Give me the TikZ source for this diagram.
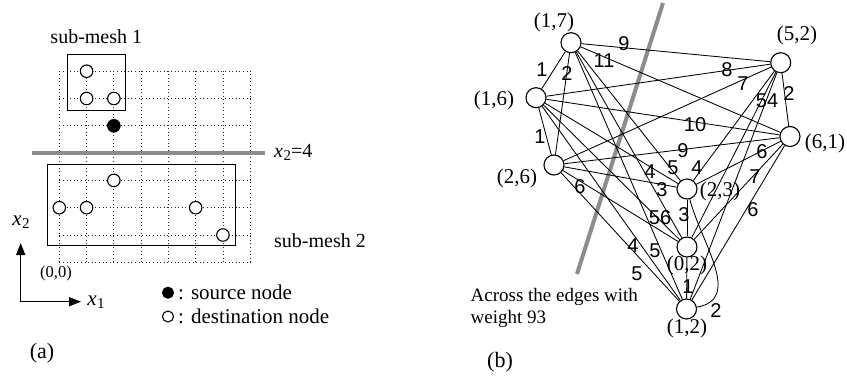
\documentclass[tikz,border=0pt]{standalone}
\usepackage{fontspec}
\setmainfont{Liberation Serif}
\newfontfamily\wfont{Liberation Sans}
\usetikzlibrary{arrows.meta}

\tikzset{
  gridline/.style={black!85, line width=0.8pt, dash pattern=on 1pt off 2.6pt},
  cutline/.style={black!45, line width=4pt},
  meshbox/.style={draw, line width=0.9pt},
  dest/.style={circle, draw, fill=white, line width=1.1pt, minimum size=12.5pt, inner sep=0pt},
  src/.style={circle, draw, fill=black, line width=1.1pt, minimum size=12.5pt, inner sep=0pt},
  vert/.style={circle, draw, fill=white, line width=1.1pt, minimum size=20pt, inner sep=0pt},
  edge/.style={line width=0.85pt},
  wlabel/.style={font=\wfont\fontsize{20}{20}\selectfont, inner sep=0pt},
  vlabel/.style={font=\fontsize{21}{21}\selectfont, inner sep=0pt},
  txt/.style={font=\fontsize{20}{24}\selectfont, inner sep=0pt},
  axis/.style={line width=1.3pt, -{Triangle[length=12pt,width=9pt]}},
}
\newcommand{\xsub}[1]{\textit{x}\kern0.5pt\raisebox{-0.35ex}{\fontsize{15}{15}\selectfont #1}}

\begin{document}
\begin{tikzpicture}[x=1pt, y=-1pt]
\useasboundingbox (0,0) rectangle (847,378);

% ---------- (a) the 2-D mesh ----------
\begin{scope}[shift={(59.3pt,-262.3pt)}, x=27.27pt, y=27.3pt]
  \foreach \i in {0,...,7} {
    \draw[gridline] (\i,0) -- (\i,7);
    \draw[gridline] (0,\i) -- (7,\i);
  }
  \draw[meshbox] (0.31,5.55) rectangle (2.41,7.6);
  \draw[meshbox] (-0.44,0.62) rectangle (6.45,3.58);
  \draw[cutline] (-0.99,4) -- (7.55,4);
  \node[src]  (s25) at (2,5) {};
  \node[dest] (m17) at (1,7) {};
  \node[dest] (m16) at (1,6) {};
  \node[dest] (m26) at (2,6) {};
  \node[dest] (m23) at (2,3) {};
  \node[dest] (m02) at (0,2) {};
  \node[dest] (m12) at (1,2) {};
  \node[dest] (m52) at (5,2) {};
  \node[dest] (m61) at (6,1) {};
\end{scope}

\node[txt] (sm1) at (96.3,37) {sub-mesh 1};
\node[txt] (sm2) at (320,241) {sub-mesh 2};
\node[txt, anchor=west] (cut) at (274,152.5) {\xsub{2}=4};
\node[txt, font=\fontsize{16.5}{16.5}\selectfont] (org) at (56,274) {(0,0)};

% axes
\coordinate (ax0) at (20.7,301.7);
\coordinate (ax2) at (20.7,243);
\coordinate (ax1) at (81,301.7);
\draw[axis] (ax0) -- (ax2);
\draw[axis] (ax0) -- (ax1);
\node[txt, font=\fontsize{21}{21}\selectfont] (x2) at (21,222) {\xsub{2}};
\node[txt, font=\fontsize{21}{21}\selectfont] (x1) at (96,302) {\xsub{1}};

% legend
\node[src, minimum size=11pt]  (lgs) at (168,292.7) {};
\node[dest, minimum size=11pt] (lgd) at (168,316.5) {};
\node[txt, anchor=west, font=\fontsize{21}{21}\selectfont] (lgst) at (178,292.5) {: source node};
\node[txt, anchor=west, font=\fontsize{21}{21}\selectfont] (lgdt) at (178,316.5) {: destination node};

\node[txt, font=\fontsize{22}{22}\selectfont] (capa) at (42,353) {(a)};

% ---------- (b) the weighted complete graph ----------
\draw[cutline] (663,3) -- (577,274);

\coordinate (p17) at (571,42.7);
\coordinate (p52) at (780.7,62.7);
\coordinate (p16) at (536,97.7);
\coordinate (p61) at (790,136.5);
\coordinate (p26) at (554,165);
\coordinate (p23) at (687,189);
\coordinate (p02) at (687,247);
\coordinate (p12) at (686.5,309);

\node[vert] (n17) at (p17) {};
\node[vert] (n52) at (p52) {};
\node[vert] (n16) at (p16) {};
\node[vert] (n61) at (p61) {};
\node[vert] (n26) at (p26) {};
\node[vert] (n23) at (p23) {};
\node[vert] (n02) at (p02) {};
\node[vert] (n12) at (p12) {};

\foreach \a/\b in {17/52,17/16,17/61,17/26,17/23,17/02,17/12,
                   52/16,52/61,52/26,52/23,52/02,52/12,
                   16/61,16/26,16/23,16/02,16/12,
                   61/26,61/23,61/02,61/12,
                   26/23,26/02,26/12,
                   23/02,02/12}
  \draw[edge] (n\a) -- (n\b);
\draw[edge] (n23) to[out=-75, in=10, looseness=1.1] (n12);

% vertex names
\node[vlabel] (l17) at (554,22) {(1,7)};
\node[vlabel] (l52) at (797,35) {(5,2)};
\node[vlabel] (l16) at (494,100) {(1,6)};
\node[vlabel] (l61) at (825,143) {(6,1)};
\node[vlabel] (l26) at (517,178) {(2,6)};
\node[vlabel] (l23) at (720,191) {(2,3)};
\node[vlabel] (l02) at (687,265) {(0,2)};
\node[vlabel] (l12) at (687,328) {(1,2)};

% edge weights
\node[wlabel] (w1)  at (624,44)  {9};
\node[wlabel] (w2)  at (604,61)  {11};
\node[wlabel] (w3)  at (542,70)  {1};
\node[wlabel] (w4)  at (567,74)  {2};
\node[wlabel] (w5)  at (727,70)  {8};
\node[wlabel] (w6)  at (743,84)  {7};
\node[wlabel] (w7)  at (767,101) {54};
\node[wlabel] (w8)  at (789,94)  {2};
\node[wlabel] (w9)  at (695,125) {10};
\node[wlabel] (w10) at (683,151) {9};
\node[wlabel] (w11) at (762,152) {6};
\node[wlabel] (w12) at (650,172) {4};
\node[wlabel] (w13) at (673,168) {5};
\node[wlabel] (w14) at (697,168) {4};
\node[wlabel] (w15) at (662,190) {3};
\node[wlabel] (w16) at (755,177) {7};
\node[wlabel] (w17) at (660,218) {56};
\node[wlabel] (w18) at (684,215) {3};
\node[wlabel] (w19) at (753,210) {6};
\node[wlabel] (w20) at (580,187) {6};
\node[wlabel] (w21) at (540,137) {1};
\node[wlabel] (w22) at (633,246) {4};
\node[wlabel] (w23) at (655,251) {5};
\node[wlabel] (w24) at (637,274) {5};
\node[wlabel] (w25) at (688,287) {1};
\node[wlabel] (w26) at (716,311) {2};

\node[txt, anchor=west, align=left, font=\fontsize{19}{22}\selectfont] (note) at (470.5,308) {Across the edges with\\weight 93};
\node[txt, font=\fontsize{22}{22}\selectfont] (capb) at (500,362) {(b)};
\end{tikzpicture}
\end{document}
